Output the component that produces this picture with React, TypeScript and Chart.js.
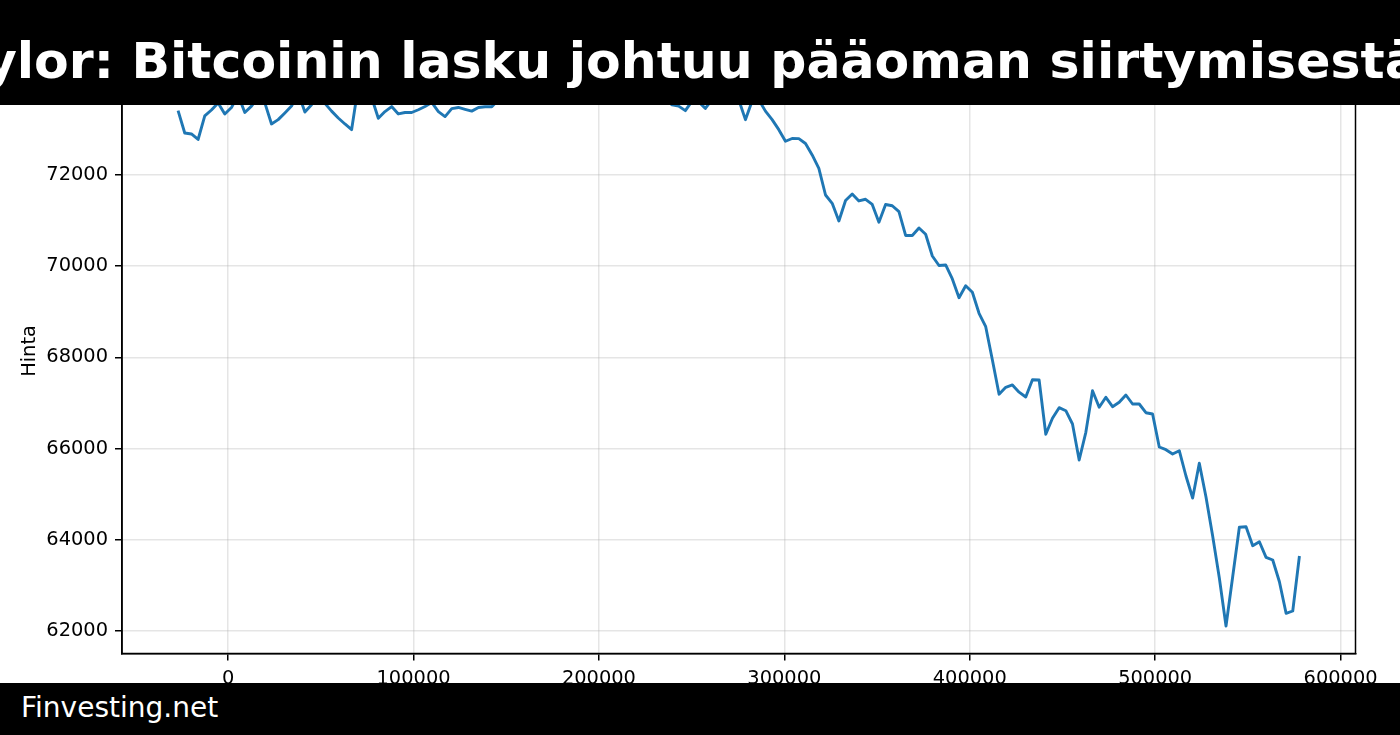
import React, { useEffect, useRef } from "react";
import { Chart, registerables } from "chart.js";

Chart.register(...registerables);

const TITLE = "Saylor: Bitcoinin lasku johtuu pääoman siirtymisestä";
const FOOTER = "Finvesting.net";
const Y_LABEL = "Hinta";

// x values (hourly steps, seconds)
const xValues = [
  -27000, -23400, -19800, -16200, -12600, -9000, -5400, -1800, 1800, 5400,
  9000, 12600, 16200, 19800, 23400, 27000, 30600, 34200, 37800, 41400,
  45000, 48600, 52200, 55800, 59400, 63000, 66600, 70200, 73800, 77400,
  81000, 84600, 88200, 91800, 95400, 99000, 102600, 106200, 109800, 113400,
  117000, 120600, 124200, 127800, 131400, 135000, 138600, 142200, 145800, 149400,
  153000, 156600, 160200, 163800, 167400, 171000, 174600, 178200, 181800, 185400,
  189000, 192600, 196200, 199800, 203400, 207000, 210600, 214200, 217800, 221400,
  225000, 228600, 232200, 235800, 239400, 243000, 246600, 250200, 253800, 257400,
  261000, 264600, 268200, 271800, 275400, 279000, 282600, 286200, 289800, 293400,
  297000, 300600, 304200, 307800, 311400, 315000, 318600, 322200, 325800, 329400,
  333000, 336600, 340200, 343800, 347400, 351000, 354600, 358200, 361800, 365400,
  369000, 372600, 376200, 379800, 383400, 387000, 390600, 394200, 397800, 401400,
  405000, 408600, 412200, 415800, 419400, 423000, 426600, 430200, 433800, 437400,
  441000, 444600, 448200, 451800, 455400, 459000, 462600, 466200, 469800, 473400,
  477000, 480600, 484200, 487800, 491400, 495000, 498600, 502200, 505800, 509400,
  513000, 516600, 520200, 523800, 527400, 531000, 534600, 538200, 541800, 545400,
  549000, 552600, 556200, 559800, 563400, 567000, 570600, 574200, 577800,
];

const prices = [
  73410, 72921, 72899, 72778, 73294, 73425, 73580, 73338, 73480, 73750,
  73370, 73510, 73700, 73580, 73118, 73213, 73360, 73510, 73800, 73380,
  73540, 73750, 73570, 73400, 73250, 73118, 72993, 73950, 74000, 73700,
  73243, 73390, 73500, 73338, 73370, 73370, 73430, 73500, 73590, 73390,
  73280, 73455, 73480, 73440, 73400, 73480, 73495, 73495, 73650, 73820,
  73760, 73910, 73850, 74020, 73940, 74100, 74170, 74050, 73980, 74080,
  73920, 73850, 73990, 73880, 73760, 73840, 73700, 73780, 73690, 73820,
  73740, 73650, 73720, 73650, 73540, 73510, 73410, 73620, 73600, 73460,
  73650, 73700, 73800, 73720, 73650, 73213, 73620, 73650, 73400, 73213,
  72993, 72739, 72800, 72796, 72691, 72439, 72143, 71561, 71379, 70991,
  71441, 71583, 71430, 71467, 71353, 70963, 71353, 71325, 71195, 70673,
  70673, 70838, 70700, 70224, 70015, 70026, 69719, 69309, 69570, 69428,
  68967, 68673, 67943, 67193, 67344, 67395, 67237, 67131, 67511, 67504,
  66314, 66664, 66897, 66831, 66539, 65750, 66357, 67270, 66906, 67125,
  66919, 67015, 67175, 66978, 66978, 66787, 66759, 66035, 65976, 65881,
  65954, 65399, 64916, 65678, 64939, 64083, 63162, 62110, 63191, 64274,
  64287, 63871, 63958, 63616, 63557, 63081, 62388, 62439, 63645,
];

const xTicks = [0, 100000, 200000, 300000, 400000, 500000, 600000];
const yTicks = [62000, 64000, 66000, 68000, 70000, 72000, 74000];

const X_MIN = -57240;
const X_MAX = 608040;
const Y_MIN = 61507;
const Y_MAX = 74773;

const FONT = "'DejaVu Sans', sans-serif";

export default function App() {
  const ref = useRef<HTMLCanvasElement>(null);

  useEffect(() => {
    const canvas = ref.current;
    if (!canvas) return;

    const frame = {
      id: "frame",
      afterDraw(chart: any) {
        const { ctx, chartArea: a } = chart;
        ctx.save();
        ctx.strokeStyle = "#000";
        ctx.lineWidth = 1.5;
        ctx.strokeRect(a.left, a.top, a.right - a.left, a.bottom - a.top);
        ctx.restore();
      },
    };

    const gridStyle = {
      color: "rgba(176,176,176,0.33)",
      lineWidth: 1.5,
      drawTicks: true,
      tickLength: 7,
      tickColor: "#000",
      tickWidth: 1.5,
    };

    const chart = new Chart(canvas, {
      type: "line",
      data: {
        datasets: [
          {
            data: xValues.map((x, i) => ({ x, y: prices[i] })),
            borderColor: "#1f77b4",
            borderWidth: 2.9,
            pointRadius: 0,
            tension: 0,
            fill: false,
            borderJoinStyle: "round",
          },
        ],
      },
      options: {
        animation: false,
        responsive: false,
        devicePixelRatio: 1,
        layout: { padding: { top: 48.5, right: 44.5, left: 0, bottom: 0 } },
        plugins: { legend: { display: false }, tooltip: { enabled: false } },
        scales: {
          x: {
            type: "linear",
            min: X_MIN,
            max: X_MAX,
            afterBuildTicks: (s: any) => {
              s.ticks = xTicks.map((v) => ({ value: v }));
            },
            afterFit: (s: any) => {
              s.height = 81.5;
            },
            ticks: {
              autoSkip: false,
              maxRotation: 0,
              padding: 7,
              color: "#000",
              font: { family: FONT, size: 19.4 },
              callback: (v: any) => String(v),
            },
            grid: gridStyle,
            border: { display: true, color: "#000", width: 1.5 },
          },
          y: {
            type: "linear",
            min: Y_MIN,
            max: Y_MAX,
            afterBuildTicks: (s: any) => {
              s.ticks = yTicks.map((v) => ({ value: v }));
            },
            afterFit: (s: any) => {
              s.width = 122;
            },
            ticks: {
              autoSkip: false,
              padding: 7,
              color: "#000",
              font: { family: FONT, size: 19.4 },
              callback: (v: any) => String(v),
            },
            grid: gridStyle,
            border: { display: true, color: "#000", width: 1.5 },
            title: {
              display: true,
              text: Y_LABEL,
              color: "#000",
              font: { family: FONT, size: 19.4 },
              padding: { top: 18, bottom: 0 },
            },
          },
        },
      },
      plugins: [frame],
    } as any);

    return () => chart.destroy();
  }, []);

  return (
    <div
      style={{
        position: "absolute",
        left: 0,
        top: 0,
        width: 1400,
        height: 735,
        overflow: "hidden",
        background: "#fff",
      }}
    >
      <canvas
        ref={ref}
        width={1400}
        height={735}
        style={{ display: "block", width: 1400, height: 735 }}
      />
      <div
        style={{
          position: "absolute",
          left: 0,
          top: 0,
          width: 1400,
          height: 105,
          background: "#000",
          overflow: "hidden",
        }}
      >
        <span
          style={{
            position: "absolute",
            left: -85,
            top: 36.2,
            fontFamily: FONT,
            fontWeight: "bold",
            fontSize: 50.5,
            lineHeight: "50.5px",
            color: "#fff",
            whiteSpace: "nowrap",
          }}
        >
          {TITLE}
        </span>
      </div>
      <div
        style={{
          position: "absolute",
          left: 0,
          top: 683,
          width: 1400,
          height: 52,
          background: "#000",
          overflow: "hidden",
        }}
      >
        <span
          style={{
            position: "absolute",
            left: 21,
            top: 10.8,
            fontFamily: FONT,
            fontSize: 28,
            lineHeight: "28px",
            color: "#fff",
            whiteSpace: "nowrap",
          }}
        >
          {FOOTER}
        </span>
      </div>
    </div>
  );
}
